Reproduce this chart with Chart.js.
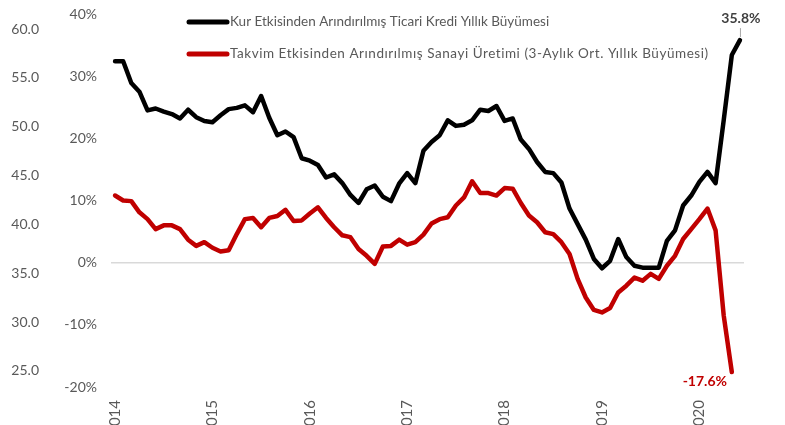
<!DOCTYPE html>
<html>
<head>
<meta charset="utf-8">
<script src="https://cdn.jsdelivr.net/npm/chart.js@4.4.0/dist/chart.umd.min.js"></script>
<style>
  html, body { margin: 0; padding: 0; background: #fff; }
  #wrap { width: 785px; height: 425px; position: relative; }
</style>
</head>
<body>
<div id="wrap"><canvas id="mychart"></canvas></div>
<script>
// monthly categories, Jan 2014 - Jun 2020
const months = [
  '2014-01','2014-02','2014-03','2014-04','2014-05','2014-06','2014-07','2014-08','2014-09','2014-10','2014-11','2014-12',
  '2015-01','2015-02','2015-03','2015-04','2015-05','2015-06','2015-07','2015-08','2015-09','2015-10','2015-11','2015-12',
  '2016-01','2016-02','2016-03','2016-04','2016-05','2016-06','2016-07','2016-08','2016-09','2016-10','2016-11','2016-12',
  '2017-01','2017-02','2017-03','2017-04','2017-05','2017-06','2017-07','2017-08','2017-09','2017-10','2017-11','2017-12',
  '2018-01','2018-02','2018-03','2018-04','2018-05','2018-06','2018-07','2018-08','2018-09','2018-10','2018-11','2018-12',
  '2019-01','2019-02','2019-03','2019-04','2019-05','2019-06','2019-07','2019-08','2019-09','2019-10','2019-11','2019-12',
  '2020-01','2020-02','2020-03','2020-04','2020-05','2020-06'
];

const yearTicks = ['2014', '2015', '2016', '2017', '2018', '2019', '2020'];

// Kur Etkisinden Arındırılmış Ticari Kredi Yıllık Büyümesi (%)
const krediBuyume = [
  32.4, 32.4, 28.9, 27.5, 24.5, 24.8, 24.3, 23.9, 23.2, 24.6, 23.4, 22.8,
  22.6, 23.7, 24.7, 24.9, 25.3, 24.2, 26.8, 23.3, 20.5, 21.1, 20.2, 16.8,
  16.4, 15.7, 13.7, 14.2, 12.8, 10.9, 9.6, 11.8, 12.4, 10.6, 9.9, 12.7,
  14.4, 12.8, 18.0, 19.4, 20.5, 22.9, 22.0, 22.2, 22.9, 24.6, 24.4, 25.2,
  22.8, 23.2, 19.8, 18.3, 16.2, 14.6, 14.4, 12.9, 8.7, 6.2, 3.7, 0.6,
  -0.9, 0.3, 3.8, 0.9, -0.5, -0.8, -0.8, -0.8, 3.5, 5.2, 9.2, 10.8,
  13.0, 14.6, 12.8, 22.9, 33.4, 35.8
];

// Takvim Etkisinden Arındırılmış Sanayi Üretimi (3-aylık ort. yıllık büyüme, %)
const sanayiUretimi = [
  10.8, 10.0, 9.9, 8.1, 7.0, 5.4, 6.0, 6.0, 5.4, 3.7, 2.7, 3.3,
  2.4, 1.8, 2.0, 4.6, 7.0, 7.2, 5.7, 7.2, 7.5, 8.5, 6.7, 6.8,
  7.9, 8.9, 7.2, 5.7, 4.4, 4.1, 2.2, 1.1, -0.2, 2.6, 2.7, 3.7,
  2.9, 3.3, 4.5, 6.3, 7.0, 7.3, 9.2, 10.5, 13.1, 11.2, 11.2, 10.8,
  12.0, 11.9, 9.6, 7.6, 6.5, 4.9, 4.6, 3.3, 1.4, -2.6, -5.6, -7.6,
  -8.0, -7.3, -4.8, -3.7, -2.4, -2.9, -1.8, -2.6, -0.5, 1.1, 3.8, 5.4,
  7.0, 8.7, 5.2, -8.5, -17.6, null
];

const leftTicks = [25, 30, 35, 40, 45, 50, 55, 60];
const pctTicks = [-20, -10, 0, 10, 20, 30, 40];

const GRAY = '#595959';
const FONT = 'Lato';

// legend + end labels drawn by hand so the plot area stays put
const extras = {
  id: 'extras',
  afterDatasetsDraw(chart) {
    const c = chart.ctx;
    c.save();
    // legend
    chart.data.datasets.forEach((ds, i) => {
      const y = 22 + i * 32;
      c.strokeStyle = ds.borderColor;
      c.lineWidth = 5;
      c.lineCap = 'round';
      c.beginPath();
      c.moveTo(189, y);
      c.lineTo(227, y);
      c.stroke();
      c.fillStyle = GRAY;
      c.font = '13.5px ' + FONT;
      c.letterSpacing = i === 1 ? '0.55px' : '0px';
      c.textBaseline = 'middle';
      c.textAlign = 'left';
      c.fillText(ds.label, 230, y);
    });
    c.letterSpacing = '0px';

    // end labels
    const pb = chart.getDatasetMeta(0).data[krediBuyume.length - 1];
    c.strokeStyle = '#a6a6a6';
    c.lineWidth = 1;
    c.lineCap = 'butt';
    c.beginPath();
    c.moveTo(pb.x + 0.5, pb.y - 3);
    c.lineTo(pb.x + 0.5, pb.y - 12);
    c.stroke();
    c.font = 'bold 14px ' + FONT;
    c.textAlign = 'center';
    c.fillStyle = '#404040';
    c.fillText(krediBuyume[krediBuyume.length - 1].toFixed(1) + '%', pb.x + 1, pb.y - 22);

    const pr = chart.getDatasetMeta(1).data[sanayiUretimi.length - 2];
    c.fillStyle = '#c00000';
    c.fillText(sanayiUretimi[sanayiUretimi.length - 2].toFixed(1) + '%', pr.x - 27, pr.y + 9);
    c.restore();
  }
};

const ctx = document.getElementById('mychart').getContext('2d');
const myChart = new Chart(ctx, {
  type: 'line',
  data: {
    labels: months,
    datasets: [{
      label: 'Kur Etkisinden Arındırılmış Ticari Kredi Yıllık Büyümesi',
      data: krediBuyume,
      borderColor: '#000000',
      borderWidth: 4.5,
      pointRadius: 0,
      tension: 0,
      yAxisID: 'y'
    }, {
      label: 'Takvim Etkisinden Arındırılmış Sanayi Üretimi (3-Aylık Ort. Yıllık Büyümesi)',
      data: sanayiUretimi,
      borderColor: '#c00000',
      borderWidth: 4.5,
      pointRadius: 0,
      tension: 0,
      yAxisID: 'y'
    }]
  },
  options: {
    responsive: true,
    maintainAspectRatio: false,
    animation: false,
    layout: { padding: { top: 14, right: 41, bottom: 0, left: 0 } },
    plugins: {
      legend: { display: false },
      tooltip: { enabled: false }
    },
    elements: { line: { borderJoinStyle: 'round', borderCapStyle: 'round' } },
    scales: {
      x: {
        offset: true,
        grid: { display: false, drawTicks: false },
        border: { display: false },
        ticks: {
          autoSkip: false,
          minRotation: 90,
          maxRotation: 90,
          padding: 13,
          color: GRAY,
          font: { family: FONT, size: 15 },
          callback: function (v, i) {
            const m = months[i];
            return m.endsWith('-01') ? yearTicks[yearTicks.indexOf(m.slice(0, 4))] : '';
          }
        },
        afterFit: s => { s.height = 38; }
      },
      y: {
        position: 'left',
        weight: 0,
        min: -20,
        max: 40,
        afterBuildTicks: s => { s.ticks = pctTicks.map(v => ({ value: v })); },
        grid: {
          drawTicks: false,
          color: c => c.tick && c.tick.value === 0 ? '#d9d9d9' : 'rgba(0,0,0,0)',
          lineWidth: 1.5
        },
        border: { display: false },
        ticks: {
          padding: 14,
          color: GRAY,
          font: { family: FONT, size: 14 },
          callback: v => v + '%'
        },
        afterFit: s => { s.width = 69; s.paddingTop = 8; s.paddingBottom = 8; }
      },
      y2: {
        display: true,
        position: 'left',
        weight: 1,
        min: 23.36,
        max: 61.54,
        afterBuildTicks: s => { s.ticks = leftTicks.map(v => ({ value: v })); },
        grid: { display: false, drawTicks: false },
        border: { display: false },
        ticks: {
          padding: 3,
          color: GRAY,
          font: { family: FONT, size: 14 },
          callback: v => v.toFixed(1)
        },
        afterFit: s => { s.width = 42; s.paddingTop = 8; s.paddingBottom = 8; }
      }
    }
  },
  plugins: [extras]
});
</script>
</body>
</html>
